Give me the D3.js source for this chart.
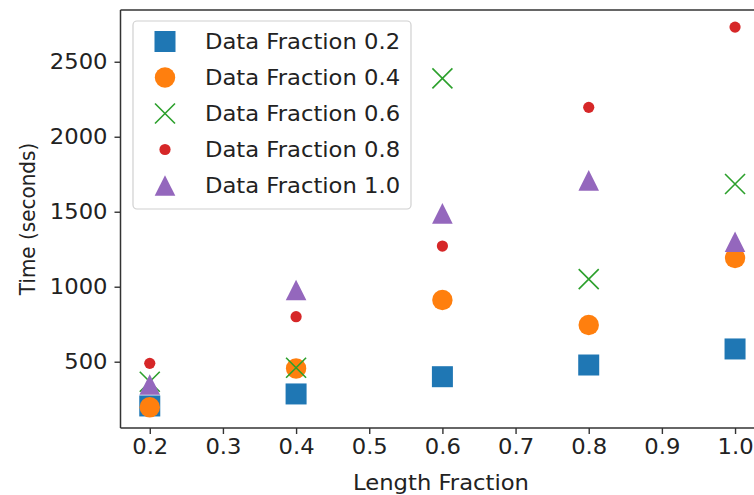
<!DOCTYPE html>
<html>
<head>
<meta charset="utf-8">
<script src="https://cdn.jsdelivr.net/npm/d3@7"></script>
<style>
  html, body { margin: 0; padding: 0; background: #fff; }
  svg { display: block; }
  text { font-family: "DejaVu Sans", sans-serif; fill: #222; }
</style>
</head>
<body>
<svg id="chart" width="754" height="495"></svg>
<script>
// ---- data ----
const lengthFractions = [0.2, 0.4, 0.6, 0.8, 1.0];
const seriesNames = ["Data Fraction 0.2", "Data Fraction 0.4", "Data Fraction 0.6", "Data Fraction 0.8", "Data Fraction 1.0"];
const timesDF02 = [205, 285, 400, 478, 585];
const timesDF04 = [196, 455, 911, 745, 1191];
const timesDF06 = [366, 460, 2389, 1051, 1685];
const timesDF08 = [489, 800, 1271, 2196, 2731];
const timesDF10 = [348, 978, 1489, 1709, 1300];
const xTicks = [0.2, 0.3, 0.4, 0.5, 0.6, 0.7, 0.8, 0.9, 1.0];
const yTicks = [500, 1000, 1500, 2000, 2500];
const xLimits = [0.16, 1.04];
const yLimits = [58, 2845];
const colors = ["#1f77b4", "#ff7f0e", "#2ca02c", "#d62728", "#9467bd"];
const markers = ["square", "circle", "x", "smallcircle", "triangle"];

const seriesValues = [timesDF02, timesDF04, timesDF06, timesDF08, timesDF10];

// ---- layout ----
const svg = d3.select("#chart");
const mLeft = 120.5, mTop = 10, mBottom = 428;
const x = d3.scaleLinear().domain(xLimits).range([mLeft, mLeft + 0.88 * 731.6]);
const y = d3.scaleLinear().domain(yLimits).range([mBottom, mTop]);
const fontSize = 21;
const sx = 1.08; // horizontal stretch of text in reference

function drawMarker(g, type, color) {
  if (type === "square") {
    g.append("rect").attr("x", -10.5).attr("y", -10.5).attr("width", 21).attr("height", 21).attr("fill", color);
  } else if (type === "circle") {
    g.append("circle").attr("r", 10.2).attr("fill", color);
  } else if (type === "smallcircle") {
    g.append("circle").attr("r", 5.6).attr("fill", color);
  } else if (type === "triangle") {
    g.append("path").attr("d", "M0,-10.3 L10.3,10.3 L-10.3,10.3 Z").attr("fill", color);
  } else if (type === "x") {
    g.append("path").attr("d", "M-10,-10 L10,10 M-10,10 L10,-10")
      .attr("stroke", color).attr("stroke-width", 1.6).attr("fill", "none");
  }
}

// ---- points ----
const plot = svg.append("g");
seriesValues.forEach((vals, si) => {
  const sg = plot.append("g");
  vals.forEach((v, i) => {
    const g = sg.append("g").attr("transform", `translate(${x(lengthFractions[i])},${y(v)})`);
    drawMarker(g, markers[si], colors[si]);
  });
});

// ---- axes ----
const xAxis = d3.axisBottom(x).tickValues(xTicks).tickFormat(d3.format(".1f")).tickSize(6).tickPadding(5);
const gx = svg.append("g").attr("transform", `translate(0,${mBottom})`).call(xAxis);
const yAxis = d3.axisLeft(y).tickValues(yTicks).tickFormat(d3.format("d")).tickSize(6).tickPadding(6);
const gy = svg.append("g").attr("transform", `translate(${mLeft},0)`).call(yAxis);

[gx, gy].forEach(g => {
  g.select(".domain").remove();
  g.selectAll(".tick line").attr("stroke", "#333").attr("stroke-width", 1.4);
  g.selectAll(".tick text").attr("font-size", fontSize).attr("font-family", "DejaVu Sans").attr("fill", "#222");
});
gx.selectAll(".tick text").attr("dy", "0.71em").attr("transform", `scale(${sx},1)`).attr("x", 0);
gy.selectAll(".tick text").attr("transform", `scale(${sx},1)`).attr("x", -13 / sx);

// spines
svg.append("line").attr("x1", mLeft).attr("x2", mLeft).attr("y1", mTop).attr("y2", mBottom)
  .attr("stroke", "#333").attr("stroke-width", 1.5);
svg.append("line").attr("x1", mLeft).attr("x2", x(xLimits[1])).attr("y1", mBottom).attr("y2", mBottom)
  .attr("stroke", "#333").attr("stroke-width", 1.5);
svg.append("line").attr("x1", mLeft).attr("x2", x(xLimits[1])).attr("y1", mTop).attr("y2", mTop)
  .attr("stroke", "#333").attr("stroke-width", 1.5);

// axis labels
svg.append("text").attr("transform", `translate(441,490) scale(${sx},1)`)
  .attr("text-anchor", "middle").attr("font-size", fontSize).text("Length Fraction");
svg.append("text").attr("transform", `translate(35,219) scale(${sx},1) rotate(-90)`)
  .attr("text-anchor", "middle").attr("font-size", 20).text("Time (seconds)");

// ---- legend ----
const lg = svg.append("g");
lg.append("rect").attr("x", 133).attr("y", 21).attr("width", 278).attr("height", 188)
  .attr("rx", 4).attr("fill", "#fff").attr("fill-opacity", 0.85)
  .attr("stroke", "#d0d0d0").attr("stroke-width", 1.2);
seriesNames.forEach((name, i) => {
  const cy = 41.5 + i * 36;
  const mg = lg.append("g").attr("transform", `translate(165,${cy})`);
  drawMarker(mg, markers[i], colors[i]);
  lg.append("text").attr("transform", `translate(205,${cy}) scale(${sx},1)`)
    .attr("dy", "0.36em").attr("font-size", fontSize).text(name);
});
</script>
</body>
</html>
